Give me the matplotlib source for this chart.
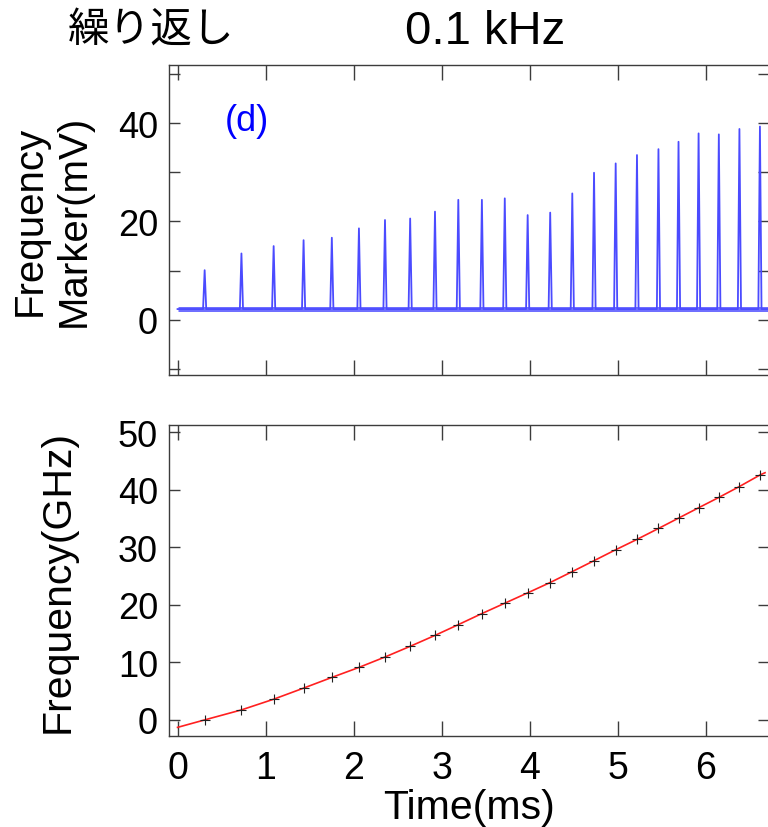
import matplotlib
matplotlib.use("Agg")
import matplotlib.pyplot as plt

# ---------------- data ----------------
marker_time_ms = [0.308, 0.726, 1.092, 1.432, 1.753, 2.061, 2.357, 2.643, 2.925, 3.19,
                  3.458, 3.718, 3.978, 4.234, 4.485, 4.732, 4.978, 5.22, 5.464, 5.692,
                  5.92, 6.15, 6.384, 6.617]
marker_peak_mV = [10.1, 13.5, 15.0, 16.2, 16.7, 18.6, 20.3, 20.6, 22.0, 24.4,
                  24.4, 24.7, 21.3, 21.8, 25.7, 29.9, 31.8, 33.5, 34.7, 36.2,
                  37.9, 37.7, 38.8, 39.3]
baseline_mV = 2.2
trace_start_ms = 0.0
trace_end_ms = 6.72

marker_freq_GHz = [0.0, 1.74, 3.6, 5.53, 7.39, 9.13, 10.94, 12.8, 14.7, 16.57,
                   18.5, 20.3, 22.1, 23.9, 25.8, 27.7, 29.6, 31.4, 33.3, 35.1,
                   36.9, 38.7, 40.6, 42.6]
fit_start = (0.0, -1.3)
fit_end = (6.675, 43.0)

x_ticks = [0, 1, 2, 3, 4, 5, 6]
top_yticks = [-10, 0, 10, 20, 30, 40, 50]
top_ytick_labels = ["", "0", "", "20", "", "40", ""]
bottom_yticks = [0, 10, 20, 30, 40, 50]

title_left = "繰り返し"
title_right = "0.1 kHz"
panel_label = "(d)"

# ---------------- style ----------------
plt.rcParams["font.family"] = ["Liberation Sans", "DejaVu Sans"]
W, H = 768, 828
fig = plt.figure(figsize=(W / 100, H / 100), dpi=100)
fig.patch.set_facecolor("white")


def rect(l, t, r, b):
    return [l / W, 1 - b / H, (r - l) / W, (b - t) / H]


ax1 = fig.add_axes(rect(169, 66, 769, 376))
ax2 = fig.add_axes(rect(169, 426, 769, 737))

spine_col = "#3c3c3c"
for ax in (ax1, ax2):
    for s in ax.spines.values():
        s.set_color(spine_col)
        s.set_linewidth(1.0)
    ax.set_xlim(-0.097, 6.72)
    ax.set_xticks(x_ticks)
    ax.tick_params(axis="both", direction="in", top=True, right=True,
                   color=spine_col, width=1.0, labelcolor="black")
    ax.tick_params(axis="x", length=11, labelsize=27, pad=10)
    ax.tick_params(axis="y", length=8, labelsize=26, pad=8)

# ---- top panel: frequency marker trace ----
hw = 0.018
tt = [trace_start_ms]
yy = [baseline_mV]
for t, p in zip(marker_time_ms, marker_peak_mV):
    tt += [t - hw, t, t + hw]
    yy += [baseline_mV, p, baseline_mV]
tt.append(trace_end_ms)
yy.append(baseline_mV)

trace_col = "#4b4bff"
ax1.plot([trace_start_ms, trace_end_ms], [baseline_mV, baseline_mV],
         color=trace_col, lw=3.6, alpha=0.8, solid_capstyle="butt")
ax1.plot(tt, yy, color=trace_col, lw=1.3)
ax1.set_ylim(-11.2, 51.8)
ax1.set_yticks(top_yticks, top_ytick_labels)
ax1.tick_params(axis="x", labelbottom=False)
ax1.text(0.13, 0.82, panel_label, transform=ax1.transAxes, color="#0000ff",
         fontsize=26, ha="center", va="center")
ax1.set_ylabel("Frequency\nMarker(mV)", fontsize=29, linespacing=1.2,
               va="center", ha="center")
ax1.yaxis.set_label_coords(-0.195, 0.5)

# ---- bottom panel: frequency vs time ----
fit_t = [fit_start[0]] + marker_time_ms + [fit_end[0]]
fit_f = [fit_start[1]] + marker_freq_GHz + [fit_end[1]]
ax2.plot(fit_t, fit_f, color="#ff2020", lw=1.2)
ax2.plot(marker_time_ms, marker_freq_GHz, ls="none", marker="+", color="#202020",
         markersize=7, mew=0.8)
ax2.set_ylim(-2.8, 51.3)
ax2.set_yticks(bottom_yticks)
ax2.set_ylabel("Frequency(GHz)", fontsize=29.5, va="center", ha="center")
ax2.yaxis.set_label_coords(-0.185, 0.5)
ax2.set_xlabel("Time(ms)", fontsize=29.5, va="top")
ax2.xaxis.set_label_coords(0.5, -0.166)

# ---- titles ----
fig.text(68 / W, 1 - 31 / H, title_left, fontsize=30, ha="left", va="center",
         family=["Noto Sans CJK JP", "DejaVu Sans"])
fig.text(485 / W, 1 - 31.5 / H, title_right, fontsize=34, ha="center", va="center")

fig.savefig("out.png", dpi=100, facecolor="white")
